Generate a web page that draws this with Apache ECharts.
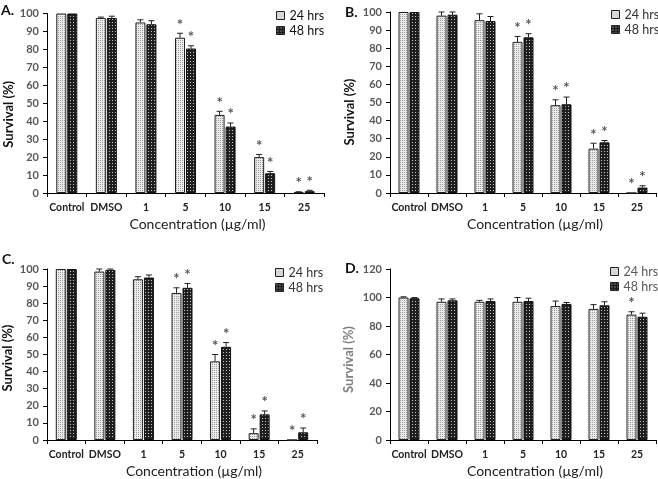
<!DOCTYPE html>
<html><head><meta charset="utf-8">
<script src="https://cdn.jsdelivr.net/npm/echarts@6/dist/echarts.min.js"></script>
<style>html,body{margin:0;padding:0;background:#fff}#c{width:658px;height:479px}</style>
</head><body><div id="c"></div>
<script>
// ---------- data ----------
const categories = ['Control', 'DMSO', '1', '5', '10', '15', '25'];
const seriesNames = ['24 hrs', '48 hrs'];
const panelLabels = ['A.', 'B.', 'C.', 'D.'];
const yTitle = 'Survival (%)';
const xTitle = 'Concentration (µg/ml)';

const A24 = [100, 97.5, 95, 86.5, 43.5, 20, 0.5];
const A48 = [100, 97.5, 94, 80.5, 37, 11, 1];
const A24err = [0, 0.5, 1.5, 2.5, 2, 1.5, 0.2];
const A48err = [0, 1, 2, 1.5, 2, 1, 0.5];
const A24star = [0, 0, 0, 1, 1, 1, 1];
const A48star = [0, 0, 0, 1, 1, 1, 1];

const B24 = [100, 98, 95.5, 83.5, 48.5, 24.5, 0];
const B48 = [100, 98.5, 95, 86, 49, 28, 3];
const B24err = [0, 2, 3.5, 3, 3, 3, 0];
const B48err = [0, 1.5, 2.5, 2, 4, 1, 1];
const B24star = [0, 0, 0, 1, 1, 1, 1];
const B48star = [0, 0, 0, 1, 1, 1, 1];

const C24 = [100, 98.5, 94, 86, 46, 4, 0];
const C48 = [100, 99.5, 95, 89, 54.5, 15, 4.5];
const C24err = [0, 1.5, 1.5, 3, 4, 2.5, 0];
const C48err = [0, 0.5, 1.5, 2.5, 2.5, 2, 2.5];
const C24star = [0, 0, 0, 1, 1, 1, 1];
const C48star = [0, 0, 0, 1, 1, 1, 1];

const D24 = [100, 97, 97, 97, 94, 92, 88];
const D48 = [99.5, 98, 97.5, 97.5, 95.5, 94.5, 86.5];
const D24err = [0.5, 2, 1, 3, 3.5, 3, 2];
const D48err = [0.5, 1, 1.5, 2, 1, 2.5, 2.5];
const D24star = [0, 0, 0, 0, 0, 0, 1];
const D48star = [0, 0, 0, 0, 0, 0, 0];

const yMax = [100, 100, 100, 120];
const yInterval = [10, 10, 10, 20];

const panelData = [
  [A24, A48, A24err, A48err, A24star, A48star],
  [B24, B48, B24err, B48err, B24star, B48star],
  [C24, C48, C24err, C48err, C24star, C48star],
  [D24, D48, D24err, D48err, D24star, D48star]
];

// ---------- layout ----------
const grids = [
  {left: 47, top: 13.5, width: 277, height: 179.5},
  {left: 390, top: 12, width: 266, height: 181},
  {left: 46, top: 269, width: 271, height: 175},
  {left: 390, top: 269, width: 266, height: 174}
];
const labelPos = [[1, 3], [345, 5], [2, 252], [345, 261]];
const legendPos = [[276, 9], [611, 8], [275, 266], [610, 265]];
const yNameGap = [32, 34, 33, 35];
const yNameShift = [22, 19, 7, 10];
const FONT = 'Lato, "Open Sans", sans-serif';

function makePattern(bg, dot, size, dots) {
  const c = document.createElement('canvas');
  c.width = size; c.height = size;
  const g = c.getContext('2d');
  g.fillStyle = bg; g.fillRect(0, 0, size, size);
  g.fillStyle = dot;
  dots.forEach(d => g.fillRect(d[0], d[1], 1, 1));
  return {image: c, repeat: 'repeat'};
}
const pat24 = makePattern('#ececec', '#9a9a9a', 2, [[0, 0]]);
const pat48 = makePattern('#1e1e1e', '#c8c8c8', 3, [[1, 1]]);

function errRender(offset) {
  return function (params, api) {
    const x = api.value(0), v = api.value(1), e = api.value(2), s = api.value(3);
    const base = api.coord([x, v]);
    const top = api.coord([x, v + e]);
    const cx = base[0] + offset;
    const ch = [];
    if (e > 0) {
      ch.push({type: 'line', shape: {x1: cx, y1: base[1], x2: cx, y2: top[1]}, style: {stroke: '#222', lineWidth: 1}});
      ch.push({type: 'line', shape: {x1: cx - 3, y1: top[1], x2: cx + 3, y2: top[1]}, style: {stroke: '#222', lineWidth: 1}});
    }
    if (s) {
      ch.push({type: 'text', style: {text: '*', x: cx, y: top[1] - 1, align: 'center', verticalAlign: 'bottom',
        textAlign: 'center', textVerticalAlign: 'bottom', fill: '#595959', font: 'bold 15px ' + FONT}});
    }
    return {type: 'group', children: ch};
  };
}

const option = {
  animation: false,
  backgroundColor: '#fff',
  textStyle: {fontFamily: FONT},
  grid: grids.map(g => Object.assign({containLabel: false}, g)),
  title: panelLabels.map((t, i) => ({text: t, left: labelPos[i][0], top: labelPos[i][1], padding: 0,
    textStyle: {fontFamily: FONT, fontWeight: 'bold', fontSize: 14, color: '#111'}})),
  legend: legendPos.map((p, i) => ({
    left: p[0], top: p[1], padding: 0, orient: 'vertical', itemWidth: 8, itemHeight: 8, itemGap: 2,
    icon: 'rect', data: seriesNames, selectedMode: false,
    itemStyle: {borderColor: '#222', borderWidth: 1},
    textStyle: {fontFamily: FONT, fontSize: 12.5, color: i === 3 ? '#595959' : (i === 0 ? '#111' : '#333')}
  })),
  xAxis: grids.map((g, i) => ({
    type: 'category', gridIndex: i, data: categories,
    name: xTitle, nameLocation: 'middle', nameGap: 24,
    nameTextStyle: {fontFamily: FONT, fontSize: 14, color: '#222', padding: [0, 0, 0, 24]},
    axisLine: {lineStyle: {color: '#000', width: 1}},
    axisTick: {show: true, length: 4, lineStyle: {color: '#000'}},
    axisLabel: {fontFamily: FONT, fontWeight: 'bold', fontSize: 10.5, color: '#222', margin: 9, interval: 0}
  })),
  yAxis: grids.map((g, i) => ({
    type: 'value', gridIndex: i, min: 0, max: yMax[i], interval: yInterval[i],
    name: yTitle, nameLocation: 'middle', nameGap: yNameGap[i],
    nameTextStyle: {fontFamily: FONT, fontSize: 13, fontWeight: 'bold', color: i === 3 ? '#7f7f7f' : '#111',
      padding: [0, yNameShift[i], 0, 0]},
    axisLine: {show: true, lineStyle: {color: '#000', width: 1}},
    axisTick: {show: true, length: 4, lineStyle: {color: '#000'}},
    splitLine: {show: false},
    axisLabel: {fontFamily: FONT, fontWeight: 'bold', fontSize: 11, color: '#595959', margin: 8}
  })),
  series: []
};

panelData.forEach((pd, i) => {
  const [v24, v48, e24, e48, s24, s48] = pd;
  option.series.push({
    type: 'bar', name: seriesNames[0], xAxisIndex: i, yAxisIndex: i, data: v24,
    barWidth: 10, barGap: '10%',
    itemStyle: {color: pat24, borderColor: '#222', borderWidth: 1}
  });
  option.series.push({
    type: 'bar', name: seriesNames[1], xAxisIndex: i, yAxisIndex: i, data: v48,
    barWidth: 10, barGap: '10%',
    itemStyle: {color: pat48, borderColor: '#111', borderWidth: 1}
  });
  option.series.push({
    type: 'custom', xAxisIndex: i, yAxisIndex: i, z: 5, clip: false,
    renderItem: errRender(-5.5), encode: {x: 0, y: 1},
    data: v24.map((v, k) => [k, v, e24[k], s24[k]])
  });
  option.series.push({
    type: 'custom', xAxisIndex: i, yAxisIndex: i, z: 5, clip: false,
    renderItem: errRender(5.5), encode: {x: 0, y: 1},
    data: v48.map((v, k) => [k, v, e48[k], s48[k]])
  });
});

const chart = echarts.init(document.getElementById('c'), null, {renderer: 'canvas'});
chart.setOption(option);
</script></body></html>
